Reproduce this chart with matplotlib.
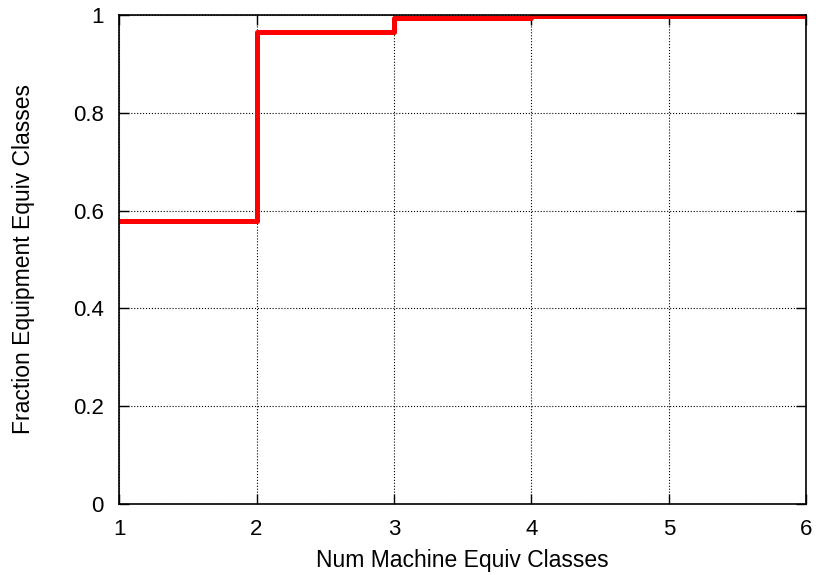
import numpy as np
from matplotlib import pyplot as plt

plt.rcParams['font.family'] = ['Liberation Sans', 'DejaVu Sans']

num_clases = [1, 2, 3, 4, 5, 6]
fraccion = [0.578, 0.966, 0.994, 0.997, 0.997, 0.997]

fig = plt.figure(figsize=(8.16, 5.75), dpi=100)
ax = fig.add_axes([0.146, 0.1235, 0.842, 0.8505])

ax.step(num_clases, fraccion, where='post', color='#ff0000', linewidth=3.6)

ax.set_xlim(1, 6)
ax.set_ylim(0, 1)
ax.set_xticks(num_clases)
ax.set_yticks([0, 0.2, 0.4, 0.6, 0.8, 1])
ax.set_yticklabels(['0', '0.2', '0.4', '0.6', '0.8', '1'])
ax.tick_params(direction='in', length=7, width=1, labelsize=16, pad=11,
               top=True, right=True)
ax.grid(True, linestyle=':', color='black', linewidth=0.8)
for s in ax.spines.values():
    s.set_linewidth(1.2)

ax.set_xlabel('Num Machine Equiv Classes', fontsize=16.5, labelpad=6)
ax.set_ylabel('Fraction Equipment Equiv Classes', fontsize=16.5, labelpad=27)

plt.savefig('out.png')
